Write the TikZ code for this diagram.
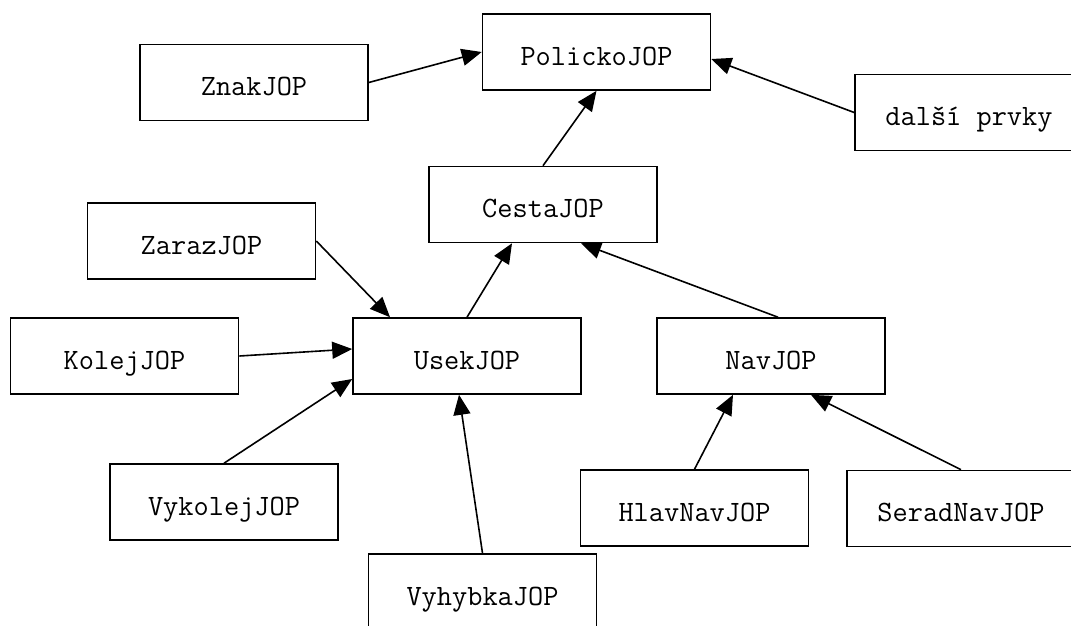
\documentclass[tikz,border=0pt]{standalone}
\usepackage{fontspec}
\usetikzlibrary{arrows.meta}
\tikzset{
	trida/.style={draw, line width=1.6pt, minimum width=228pt, minimum height=76pt,
		inner sep=0pt, text height=26pt, text depth=0pt,
		font=\ttfamily\fontsize{29.5}{33}\selectfont},
	dedi/.style={-{Triangle[length=20pt,width=17pt]}, line width=1.6pt},
}
\begin{document}
\begin{tikzpicture}[x=1pt, y=-1pt]
	\clip (0,0) rectangle (1071,625);
	% Tridy
	\node[trida] (PolickoJOP) at (596.5, 52) {PolickoJOP};
	\node[trida] (ZnakJOP) at (254, 82.5) {ZnakJOP};
	\node[trida] (DalsiPrvky) at (969, 112.5) {další prvky};
	\node[trida] (CestaJOP) at (543, 204.5) {CestaJOP};
	\node[trida] (ZarazJOP) at (201.5, 241) {ZarazJOP};
	\node[trida] (KolejJOP) at (124.5, 356) {KolejJOP};
	\node[trida] (UsekJOP) at (467, 356) {UsekJOP};
	\node[trida] (NavJOP) at (771, 356) {NavJOP};
	\node[trida] (VykolejJOP) at (224, 502) {VykolejJOP};
	\node[trida] (HlavNavJOP) at (694.5, 508) {HlavNavJOP};
	\node[trida] (SeradNavJOP) at (961, 508.5) {SeradNavJOP};
	\node[trida] (VyhybkaJOP) at (482.5, 592) {VyhybkaJOP};

	% Dedicnost
	\draw[dedi] (ZnakJOP.east) -- (PolickoJOP.west);
	\draw[dedi] (DalsiPrvky.west) -- ([yshift=-7pt]PolickoJOP.east);
	\draw[dedi] (CestaJOP.north) -- (PolickoJOP.south);
	\draw[dedi] (UsekJOP.north) -- ([xshift=-31pt]CestaJOP.south);
	\draw[dedi] ([xshift=7pt]NavJOP.north) -- ([xshift=38pt]CestaJOP.south);
	\draw[dedi] (ZarazJOP.east) -- ([xshift=-77pt]UsekJOP.north);
	\draw[dedi] (KolejJOP.east) -- ([yshift=7pt]UsekJOP.west);
	\draw[dedi] (VykolejJOP.north) -- ([yshift=-23pt]UsekJOP.west);
	\draw[dedi] (VyhybkaJOP.north) -- ([xshift=-8pt]UsekJOP.south);
	\draw[dedi] (HlavNavJOP.north) -- ([xshift=-38pt]NavJOP.south);
	\draw[dedi] (SeradNavJOP.north) -- ([xshift=40pt]NavJOP.south);
\end{tikzpicture}
\end{document}
